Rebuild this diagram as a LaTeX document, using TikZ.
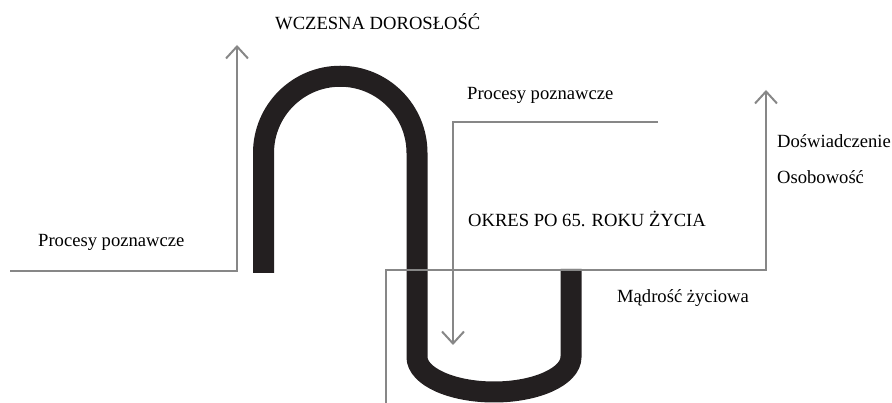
\documentclass[tikz,border=0pt]{standalone}
\usepackage{fontspec}
\setmainfont{Liberation Serif}
\usetikzlibrary{arrows.meta}
\definecolor{bandblack}{HTML}{231F20}
\definecolor{linegray}{HTML}{878787}
\begin{document}
\begin{tikzpicture}[x=1pt,y=1pt,
			band/.style = {draw=bandblack, line width=21pt},
			gray line/.style = {draw=linegray, line width=2pt, -{Straight Barb[length=12pt,width=22pt]}},
			label text/.style = {anchor=base west, inner sep=0pt, font=\fontsize{18.6pt}{22pt}\selectfont}]
			
			\useasboundingbox (0,0) rectangle (892,403);
			
			% czarna wstega
			\draw[band] (263.5,130) -- (263.5,250) arc[start angle=180, end angle=0, radius=76.75pt]
			-- (417,46) arc[start angle=180, end angle=360, x radius=77pt, y radius=35pt] -- (571,134);
			
			\coordinate (a1) at (10,132);
			\coordinate (a2) at (237,132);
			\coordinate (a3) at (237,358);
			\coordinate (b1) at (386,0);
			\coordinate (b2) at (386,133);
			\coordinate (b3) at (766,133);
			\coordinate (b4) at (766,313);
			\coordinate (c1) at (658,281);
			\coordinate (c2) at (453,281);
			\coordinate (c3) at (453,58);
			
			\draw[gray line] (a1) -- (a2) -- (a3);
			\draw[gray line] (b1) -- (b2) -- (b3) -- (b4);
			\draw[gray line] (c1) -- (c2) -- (c3);
			
			\node[label text] (early) at (275,373) {WCZESNA DOROSŁOŚĆ};
			\node[label text] (cog1) at (38,156) {Procesy poznawcze};
			\node[label text] (cog2) at (467,303) {Procesy poznawcze};
			\node[label text] (exp) at (777,255) {Doświadczenie};
			\node[label text] (pers) at (777,219) {Osobowość};
			\node[label text] (late) at (468,176) {OKRES PO 65. ROKU ŻYCIA};
			\node[label text] (wisdom) at (617,100) {Mądrość życiowa};
			
			\end{tikzpicture}
\end{document}
